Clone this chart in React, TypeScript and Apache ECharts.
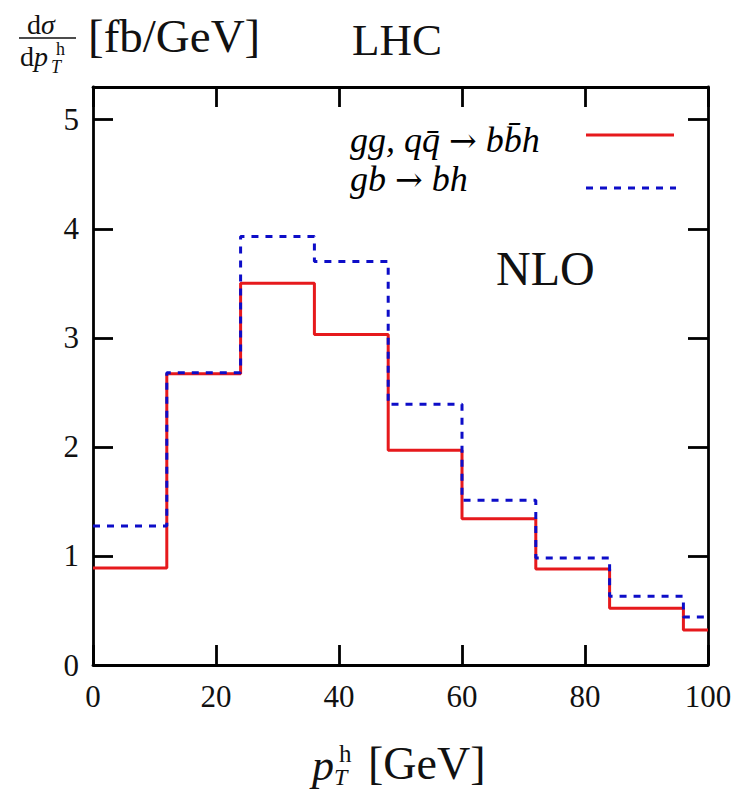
import React, { useEffect, useRef } from "react";
import * as echarts from "echarts";

// ---- data ----
const binEdges = [0, 12, 24, 36, 48, 60, 72, 84, 96, 100];
const nloGgBbh = [0.89, 2.67, 3.5, 3.03, 1.97, 1.34, 0.88, 0.52, 0.32];
const nloGbBh = [1.275, 2.68, 3.93, 3.7, 2.39, 1.51, 0.98, 0.63, 0.44];
const xTickValues = [0, 20, 40, 60, 80, 100];
const yTickValues = [0, 1, 2, 3, 4, 5];
const seriesNames = ["gg, qq\u0304 \u2192 bb\u0304h", "gb \u2192 bh"];

const FONT = '"Liberation Serif", "DejaVu Serif", serif';
const RED = "#e6191c";
const BLUE = "#0d0dc8";

function stepPoints(values: number[]) {
  const pts: number[][] = [];
  values.forEach((v, i) => {
    pts.push([binEdges[i], v]);
    pts.push([binEdges[i + 1], v]);
  });
  return pts;
}

const frameLine = { color: "#000", width: 2.8 };

const legendRich = {
  i: { fontSize: 36, fontStyle: "italic" as const, fontFamily: FONT, color: "#111", lineHeight: 32 },
  a: { fontSize: 33, fontFamily: '"DejaVu Serif", serif', color: "#111", lineHeight: 32 },
};

export default function App() {
  const ref = useRef<HTMLDivElement>(null);
  useEffect(() => {
    if (!ref.current) return;
    const chart = echarts.init(ref.current, null, { renderer: "svg" });
    const baseX = {
      type: "value" as const,
      min: 0,
      max: 100,
      interval: 20,
      splitLine: { show: false },
      axisLine: { show: true, onZero: false, lineStyle: frameLine },
      axisTick: { show: true, inside: true, length: 20, lineStyle: frameLine, customValues: xTickValues },
    };
    const baseY = {
      type: "value" as const,
      min: 0,
      max: 5.3,
      splitLine: { show: false },
      axisLine: { show: true, onZero: false, lineStyle: frameLine },
      axisTick: { show: true, inside: true, length: 20, lineStyle: frameLine, customValues: yTickValues },
    };
    chart.setOption({
      animation: false,
      backgroundColor: "#fff",
      grid: { left: 93, right: 29, top: 87, bottom: 128, containLabel: false, outerBoundsMode: "none" },
      xAxis: [
        {
          ...baseX,
          position: "bottom",
          axisLabel: { customValues: xTickValues, fontSize: 31, fontFamily: FONT, color: "#111", margin: 16 },
        },
        { ...baseX, position: "top", axisLabel: { show: false } },
      ],
      yAxis: [
        {
          ...baseY,
          position: "left",
          axisLabel: { customValues: yTickValues, fontSize: 31, fontFamily: FONT, color: "#111", margin: 14 },
        },
        { ...baseY, position: "right", axisLabel: { show: false } },
      ],
      series: [
        {
          name: seriesNames[0],
          type: "line",
          xAxisIndex: 0,
          yAxisIndex: 0,
          data: stepPoints(nloGgBbh),
          showSymbol: false,
          symbol: "none",
          lineStyle: { color: RED, width: 3 },
          z: 2,
        },
        {
          name: seriesNames[1],
          type: "line",
          xAxisIndex: 0,
          yAxisIndex: 0,
          data: stepPoints(nloGbBh),
          showSymbol: false,
          symbol: "none",
          lineStyle: { color: BLUE, width: 3, type: [7, 7] },
          z: 3,
        },
      ],
      graphic: [
        // y-axis title: dσ / dp_T^h [fb/GeV]
        { type: "text", left: 27, top: 10, style: { text: "d", fontSize: 28, fontFamily: FONT, fill: "#111" } },
        { type: "text", left: 41, top: 10, style: { text: "σ", fontSize: 28, fontStyle: "italic", fontFamily: FONT, fill: "#111" } },
        { type: "line", shape: { x1: 19, y1: 38, x2: 76, y2: 38 }, style: { stroke: "#111", lineWidth: 1.5 } },
        { type: "text", left: 20, top: 42, style: { text: "d", fontSize: 28, fontFamily: FONT, fill: "#111" } },
        { type: "text", left: 34, top: 42, style: { text: "p", fontSize: 28, fontStyle: "italic", fontFamily: FONT, fill: "#111" } },
        { type: "text", left: 56, top: 40, style: { text: "h", fontSize: 18, fontFamily: FONT, fill: "#111" } },
        { type: "text", left: 51, top: 58, style: { text: "T", fontSize: 18, fontStyle: "italic", fontFamily: FONT, fill: "#111" } },
        { type: "text", left: 88, top: 12, style: { text: "[fb/GeV]", fontSize: 47, fontFamily: FONT, fill: "#111" } },
        { type: "text", left: 352, top: 17, style: { text: "LHC", fontSize: 45, fontFamily: FONT, fill: "#111" } },
        // legend
        {
          type: "text",
          left: 350,
          top: 122,
          style: { text: "{i|gg, qq\u0304 }{a|\u2192}{i| bb\u0304h}", rich: legendRich },
        },
        {
          type: "text",
          left: 350,
          top: 161,
          style: { text: "{i|gb }{a|\u2192}{i| bh}", rich: legendRich },
        },
        { type: "line", shape: { x1: 586, y1: 135, x2: 674, y2: 135 }, style: { stroke: RED, lineWidth: 3 } },
        { type: "line", shape: { x1: 586, y1: 188, x2: 676, y2: 188 }, style: { stroke: BLUE, lineWidth: 3, lineDash: [7, 7] } },
        // NLO
        { type: "text", left: 496, top: 244, style: { text: "NLO", fontSize: 48, fontFamily: FONT, fill: "#111" } },
        // x-axis title: p_T^h [GeV]
        { type: "text", left: 312, top: 743, style: { text: "p", fontSize: 44, fontStyle: "italic", fontFamily: FONT, fill: "#111" } },
        { type: "text", left: 339, top: 741, style: { text: "h", fontSize: 25, fontFamily: FONT, fill: "#111" } },
        { type: "text", left: 334, top: 765, style: { text: "T", fontSize: 24, fontStyle: "italic", fontFamily: FONT, fill: "#111" } },
        { type: "text", left: 368, top: 740, style: { text: "[GeV]", fontSize: 46, fontFamily: FONT, fill: "#111" } },
      ],
    });
    return () => chart.dispose();
  }, []);
  return <div ref={ref} style={{ position: "absolute", left: 0, top: 0, width: 737, height: 793 }} />;
}
